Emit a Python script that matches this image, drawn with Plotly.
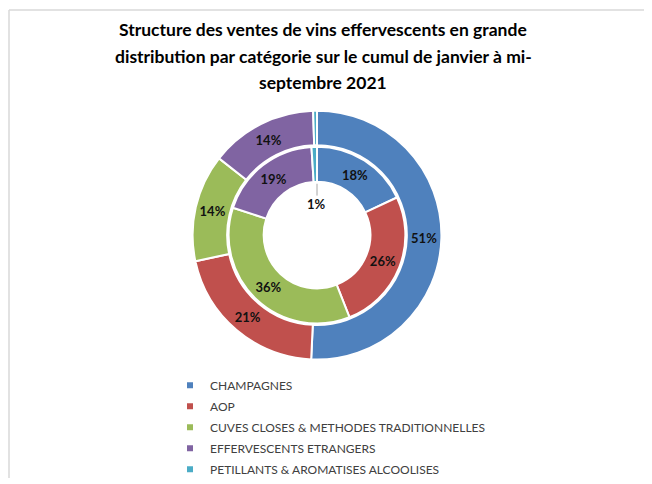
import plotly.graph_objects as go

categories = [
    "CHAMPAGNES",
    "AOP",
    "CUVES CLOSES & METHODES TRADITIONNELLES",
    "EFFERVESCENTS ETRANGERS",
    "PETILLANTS & AROMATISES ALCOOLISES",
]
outer_values = [51, 21, 14, 14, 0.5]
inner_values = [18, 26, 36, 19, 1]
colors = ["#4F81BD", "#C0504D", "#9BBB59", "#8064A2", "#4BACC6"]
title_lines = [
    "Structure des ventes de vins effervescents en grande",
    "distribution par catégorie sur le cumul de janvier à mi-",
    "septembre 2021",
]

# the page body has an 8px margin, so work in reference pixels shifted by 8
OFF = 8
W, H = 652 - OFF, 484 - OFF
FONT = "Lato"


def fx(px):
    return (px - OFF) / W


def fy(py):
    return 1 - (py - OFF) / H


def px_domain(cx, cy, r):
    return dict(x=[fx(cx - r), fx(cx + r)], y=[fy(cy + r), fy(cy - r)])


CX, CY = 317, 238
R_OUT, R_OUT_HOLE = 126, 91
R_IN, R_IN_HOLE = 89.5, 54

fig = go.Figure()

outer_tpl = ["<b>%{percent:.0%}</b>"] * (len(outer_values) - 1) + [""]
inner_tpl = ["<b>%{percent:.0%}</b>"] * (len(inner_values) - 1) + [""]

fig.add_trace(go.Pie(
    values=outer_values, labels=categories,
    domain=px_domain(CX, CY, R_OUT), hole=R_OUT_HOLE / R_OUT,
    sort=False, direction="clockwise", rotation=0,
    marker=dict(colors=colors, line=dict(color="white", width=2)),
    texttemplate=outer_tpl, textposition="inside",
    insidetextorientation="horizontal",
    textfont=dict(family=FONT, size=13, color="#111111"),
    showlegend=False, hoverinfo="label+percent",
))
fig.add_trace(go.Pie(
    values=inner_values, labels=categories,
    domain=px_domain(CX, CY, R_IN), hole=R_IN_HOLE / R_IN,
    sort=False, direction="clockwise", rotation=0,
    marker=dict(colors=colors, line=dict(color="white", width=2)),
    texttemplate=inner_tpl, textposition="inside",
    insidetextorientation="horizontal",
    textfont=dict(family=FONT, size=13, color="#111111"),
    showlegend=False, hoverinfo="label+percent",
))

# legend entries
for cat, col in zip(categories, colors):
    fig.add_trace(go.Scatter(
        x=[None], y=[None], mode="markers",
        marker=dict(symbol="square", size=6, color=col),
        name=cat, legendgroup=cat, showlegend=True,
    ))

annotations = []
title_y = [30, 57, 83]
for line, ty in zip(title_lines, title_y):
    annotations.append(dict(
        text="<b>%s</b>" % line, x=fx(323), y=fy(ty), xref="paper", yref="paper",
        xanchor="center", yanchor="middle", showarrow=False,
        font=dict(family=FONT, size=17.5, color="#000000"),
    ))

small_pct = inner_values[-1] / sum(inner_values)
annotations.append(dict(
    text="<b>%d%%</b>" % round(small_pct * 100), x=fx(316), y=fy(207),
    xref="paper", yref="paper", xanchor="center", yanchor="middle",
    showarrow=False, font=dict(family=FONT, size=13, color="#111111"),
))

shapes = [
    dict(type="line", xref="paper", yref="paper", x0=fx(9), x1=fx(9), y0=0, y1=fy(10),
         line=dict(color="#d9d9d9", width=1.5)),
    dict(type="line", xref="paper", yref="paper", x0=fx(9), x1=1, y0=fy(10), y1=fy(10),
         line=dict(color="#d9d9d9", width=1.5)),
    dict(type="line", xref="paper", yref="paper", x0=fx(317), x1=fx(317),
         y0=fy(198), y1=fy(186), line=dict(color="#a6a6a6", width=1)),
]

fig.update_layout(
    width=W, height=H, margin=dict(l=0, r=0, t=0, b=0),
    paper_bgcolor="white", plot_bgcolor="white",
    xaxis=dict(visible=False), yaxis=dict(visible=False),
    annotations=annotations, shapes=shapes,
    legend=dict(
        x=fx(170), y=fy(375.5), xanchor="left", yanchor="top",
        font=dict(family=FONT, size=12, color="#404040"),
        tracegroupgap=2, bgcolor="rgba(0,0,0,0)",
    ),
)

fig.write_html("out.html")
